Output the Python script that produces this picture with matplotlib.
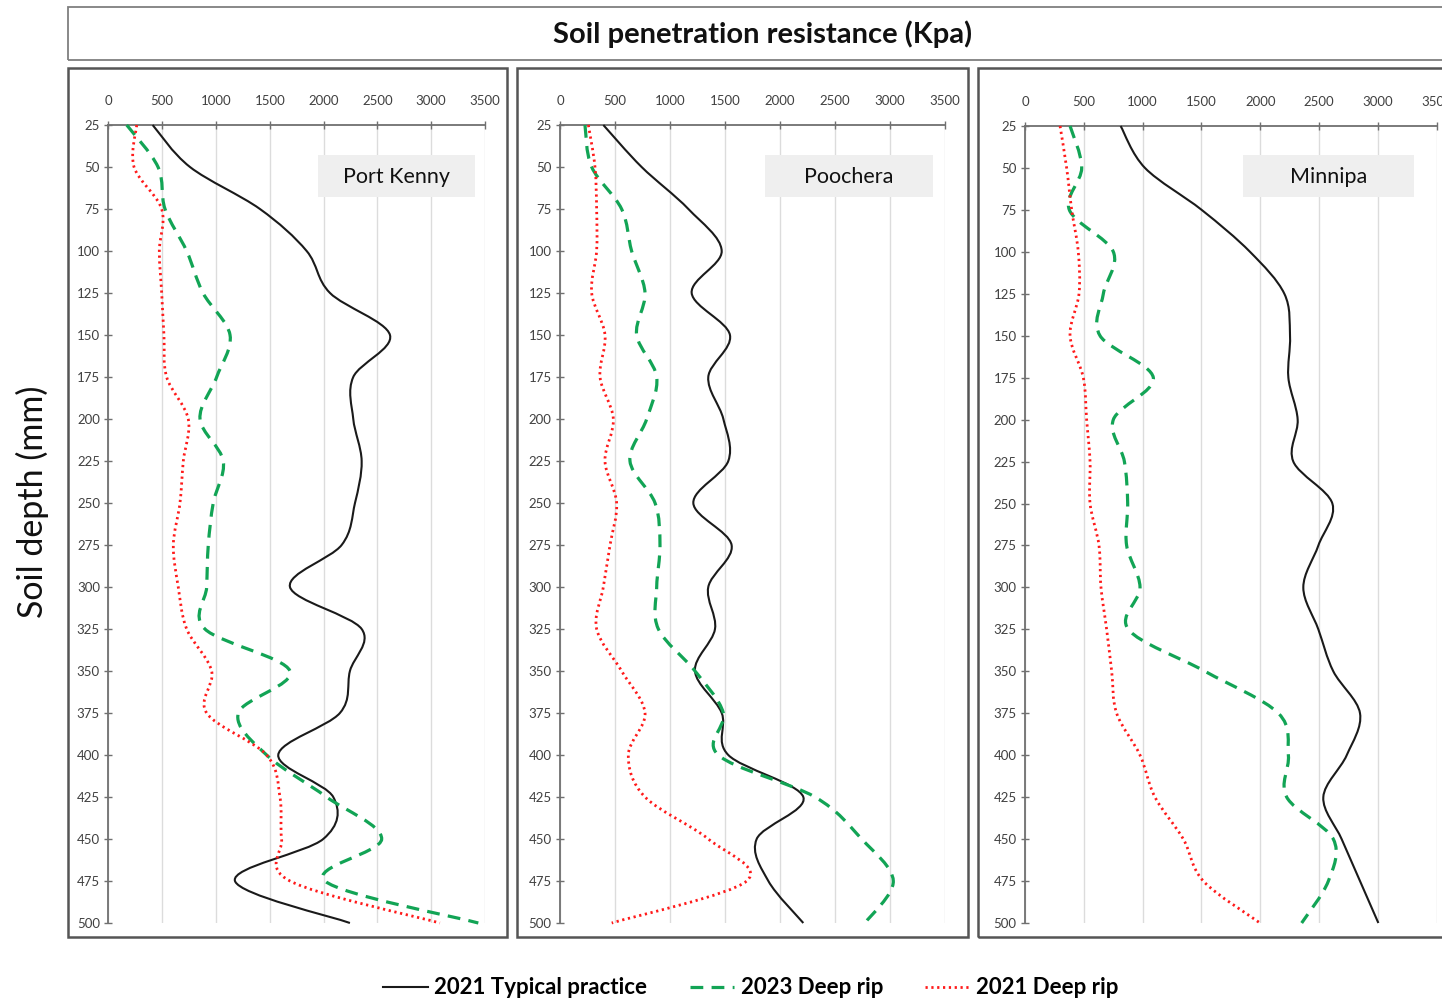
import numpy as np
import matplotlib
matplotlib.use("Agg")
import matplotlib.pyplot as plt
from matplotlib.path import Path
from matplotlib.patches import PathPatch, Rectangle
from matplotlib.lines import Line2D

plt.rcParams["font.family"] = ["Lato", "DejaVu Sans"]

# soil depth (mm), one reading every 25 mm
depth = list(range(25, 501, 25))

sites = ["Port Kenny", "Poochera", "Minnipa"]

# penetration resistance (kPa)
kenny_typical_2021 = [412, 759, 1409, 1843, 2060, 2617, 2276, 2276, 2354, 2292,
                      2168, 1688, 2354, 2245, 2152, 1579, 2090, 1997, 1177, 2245]
kenny_rip_2023 = [171, 462, 527, 728, 880, 1131, 1007, 852, 1068, 975,
                  929, 914, 898, 1688, 1208, 1471, 2028, 2540, 2013, 3438]
kenny_rip_2021 = [264, 239, 496, 474, 496, 517, 542, 743, 697, 666,
                  604, 650, 728, 960, 914, 1471, 1595, 1610, 1688, 3081]

poochera_typical_2021 = [394, 742, 1167, 1470, 1197, 1545, 1348, 1485, 1530, 1212,
                         1560, 1348, 1409, 1227, 1470, 1530, 2212, 1788, 1894, 2212]
poochera_rip_2023 = [227, 288, 560, 651, 773, 697, 879, 788, 636, 864,
                     909, 879, 894, 1227, 1485, 1439, 2318, 2742, 3030, 2773]
poochera_rip_2021 = [258, 318, 333, 333, 288, 409, 364, 485, 409, 515,
                     455, 394, 333, 560, 773, 621, 773, 1348, 1697, 470]

minnipa_typical_2021 = [813, 1020, 1502, 1913, 2205, 2253, 2239, 2318, 2281, 2613,
                        2494, 2366, 2494, 2621, 2848, 2735, 2536, 2692, 2848, 3004]
minnipa_rip_2023 = [383, 482, 377, 751, 666, 638, 1091, 751, 845, 873,
                    864, 978, 879, 1530, 2154, 2239, 2225, 2621, 2579, 2352]
minnipa_rip_2021 = [298, 354, 397, 453, 459, 383, 496, 524, 553, 553,
                    629, 646, 694, 737, 779, 978, 1105, 1346, 1516, 1998]

series_names = ["2021 Typical practice", "2023 Deep rip", "2021 Deep rip"]
site_data = [
    (kenny_typical_2021, kenny_rip_2023, kenny_rip_2021),
    (poochera_typical_2021, poochera_rip_2023, poochera_rip_2021),
    (minnipa_typical_2021, minnipa_rip_2023, minnipa_rip_2021),
]

styles = [
    dict(color="#1a1a1a", lw=1.5, ls="-"),
    dict(color="#12a455", lw=2.3, ls=(0, (4, 2.6))),
    dict(color="#ff1a1a", lw=2.0, ls=(0, (0.8, 1.3))),
]

W, H = 1442, 1002


def fx(px):
    return px / W


def fy(py):
    return 1 - py / H


def smooth_path(xs, ys):
    # excel style smoothed line: cubic bezier through every point
    pts = np.column_stack([xs, ys]).astype(float)
    n = len(pts)
    verts = [pts[0]]
    codes = [Path.MOVETO]
    for i in range(n - 1):
        p0 = pts[max(i - 1, 0)]
        p1 = pts[i]
        p2 = pts[i + 1]
        p3 = pts[min(i + 2, n - 1)]
        verts += [p1 + (p2 - p0) / 6, p2 - (p3 - p1) / 6, p2]
        codes += [Path.CURVE4] * 3
    return Path(verts, codes)


fig = plt.figure(figsize=(W / 100, H / 100), dpi=100)

# title box
fig.patches.append(Rectangle((fx(68), fy(60)), fx(1460) - fx(68), fy(7) - fy(60),
                             transform=fig.transFigure, fill=False,
                             edgecolor="#7f7f7f", lw=1.3))
fig.text(fx(763), fy(34), "Soil penetration resistance (Kpa)", ha="center", va="center",
         fontsize=21, fontweight="bold", color="#111111")

fig.text(fx(32), fy(502), "Soil depth (mm)", rotation=90, ha="center", va="center",
         fontsize=24.5, color="#111111")

panel_boxes = [(68, 507), (517, 968), (978, 1460)]
axes_px = [(108.3, 485, 125, 923), (560, 945, 125, 923), (1025, 1436.7, 126, 923)]
label_boxes = [(318, 475), (765, 933), (1243, 1414)]

for k in range(3):
    bx0, bx1 = panel_boxes[k]
    fig.patches.append(Rectangle((fx(bx0), fy(937)), fx(bx1) - fx(bx0), fy(68) - fy(937),
                                 transform=fig.transFigure, fill=False,
                                 edgecolor="#555555", lw=1.8))

    x0, x1, y0, y1 = axes_px[k]
    ax = fig.add_axes([fx(x0), fy(y1), fx(x1) - fx(x0), fy(y0) - fy(y1)])
    ax.set_xlim(0, 3500)
    ax.set_ylim(500, 25)
    ax.set_xticks(range(0, 3501, 500))
    ax.set_yticks(depth)
    ax.xaxis.tick_top()
    ax.tick_params(axis="both", labelsize=9.5, labelcolor="#404040", color="#707070",
                   direction="inout", length=6, width=1)
    ax.tick_params(axis="x", pad=10)
    ax.tick_params(axis="y", pad=3)
    for side in ["right", "bottom"]:
        ax.spines[side].set_visible(False)
    for side in ["top", "left"]:
        ax.spines[side].set_color("#707070")
        ax.spines[side].set_linewidth(1.3)
    ax.grid(axis="x", color="#dcdcdc", lw=1)
    ax.set_axisbelow(True)
    ax.patch.set_alpha(0)

    for values, st in zip(site_data[k], styles):
        patch = PathPatch(smooth_path(values, depth), fill=False, edgecolor=st["color"],
                          lw=st["lw"], linestyle=st["ls"], clip_on=False, zorder=3)
        ax.add_patch(patch)

    lx0, lx1 = label_boxes[k]
    fig.patches.append(Rectangle((fx(lx0), fy(197)), fx(lx1) - fx(lx0), fy(155) - fy(197),
                                 transform=fig.transFigure, facecolor="#efefef",
                                 edgecolor="none", zorder=5))
    fig.text(fx((lx0 + lx1) / 2), fy(177), sites[k], ha="center", va="center",
             fontsize=15.5, color="#111111", zorder=6)

handles = [Line2D([], [], color=st["color"], lw=st["lw"], linestyle=st["ls"]) for st in styles]
fig.legend(handles, series_names, loc="center", bbox_to_anchor=(fx(751), fy(988)), ncol=3,
           frameon=False, prop={"size": 16, "weight": "bold"}, handlelength=2.0,
           handletextpad=0.3, columnspacing=1.9, borderpad=0)

fig.savefig("out.png", dpi=100)
